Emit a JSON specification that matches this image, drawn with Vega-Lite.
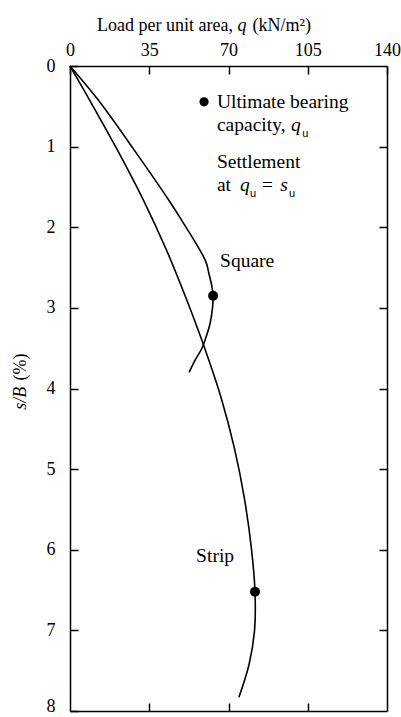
{
  "$schema": "https://vega.github.io/schema/vega-lite/v6.json",
  "width": 317,
  "height": 645,
  "autosize": {"type": "none"},
  "padding": {"left": 70, "top": 66, "right": 14, "bottom": 6},
  "background": "white",
  "config": {
    "view": {"stroke": null},
    "font": "Liberation Serif",
    "axis": {
      "domainColor": "black",
      "domainWidth": 1.5,
      "tickColor": "black",
      "tickWidth": 1.5,
      "tickSize": -8,
      "labelFont": "Liberation Serif",
      "labelFontSize": 18,
      "labelColor": "black",
      "labelFlush": false,
      "grid": false,
      "title": null
    }
  },
  "datasets": {
    "curves": [
      {"footing": "Square", "i": 0, "q": 0, "s": 0},
      {"footing": "Square", "i": 1, "q": 12.4, "s": 0.42},
      {"footing": "Square", "i": 2, "q": 28.3, "s": 1.04},
      {"footing": "Square", "i": 3, "q": 43.3, "s": 1.65},
      {"footing": "Square", "i": 4, "q": 49.0, "s": 1.9},
      {"footing": "Square", "i": 5, "q": 59.9, "s": 2.42},
      {"footing": "Square", "i": 6, "q": 61.4, "s": 2.58},
      {"footing": "Square", "i": 7, "q": 62.7, "s": 2.74},
      {"footing": "Square", "i": 8, "q": 63.2, "s": 2.85},
      {"footing": "Square", "i": 9, "q": 62.9, "s": 3.01},
      {"footing": "Square", "i": 10, "q": 61.8, "s": 3.2},
      {"footing": "Square", "i": 11, "q": 60.1, "s": 3.36},
      {"footing": "Square", "i": 12, "q": 58.1, "s": 3.51},
      {"footing": "Square", "i": 13, "q": 55.2, "s": 3.65},
      {"footing": "Square", "i": 14, "q": 52.6, "s": 3.8},
      {"footing": "Strip", "i": 0, "q": 0, "s": 0},
      {"footing": "Strip", "i": 1, "q": 8.6, "s": 0.42},
      {"footing": "Strip", "i": 2, "q": 20.9, "s": 1.04},
      {"footing": "Strip", "i": 3, "q": 32.2, "s": 1.65},
      {"footing": "Strip", "i": 4, "q": 42.4, "s": 2.27},
      {"footing": "Strip", "i": 5, "q": 51.4, "s": 2.89},
      {"footing": "Strip", "i": 6, "q": 59.1, "s": 3.47},
      {"footing": "Strip", "i": 7, "q": 66.8, "s": 4.12},
      {"footing": "Strip", "i": 8, "q": 72.6, "s": 4.74},
      {"footing": "Strip", "i": 9, "q": 77.0, "s": 5.36},
      {"footing": "Strip", "i": 10, "q": 80.1, "s": 5.98},
      {"footing": "Strip", "i": 11, "q": 81.7, "s": 6.52},
      {"footing": "Strip", "i": 12, "q": 81.5, "s": 7.0},
      {"footing": "Strip", "i": 13, "q": 79.1, "s": 7.42},
      {"footing": "Strip", "i": 14, "q": 74.6, "s": 7.83}
    ],
    "ultimate": [
      {"footing": "Square", "q": 63.2, "s": 2.85},
      {"footing": "Strip", "q": 81.7, "s": 6.52}
    ],
    "key": [
      {"q": 59.2, "s": 0.444}
    ],
    "plain": [
      {"label": "Ultimate bearing", "q": 64.9, "s": 0.518},
      {"label": "capacity,", "q": 64.9, "s": 0.801},
      {"label": "Settlement", "q": 64.9, "s": 1.27},
      {"label": "at", "q": 64.9, "s": 1.553},
      {"label": "=", "q": 84.8, "s": 1.553},
      {"label": "Square", "q": 66.3, "s": 2.49},
      {"label": "Strip", "q": 55.7, "s": 6.151}
    ],
    "italic": [
      {"label": "q", "q": 97.6, "s": 0.801},
      {"label": "q", "q": 75.1, "s": 1.553},
      {"label": "s", "q": 92.8, "s": 1.553}
    ],
    "subscript": [
      {"label": "u", "q": 102.6, "s": 0.875},
      {"label": "u", "q": 79.5, "s": 1.627},
      {"label": "u", "q": 96.7, "s": 1.627}
    ],
    "xtitle": [
      {"part": "Load per unit area,", "q": 72.0, "s": -0.44}
    ],
    "xtitleItalic": [
      {"part": "q", "q": 74.0, "s": -0.44}
    ],
    "xtitleUnit": [
      {"part": "(kN/m²)", "q": 80.6, "s": -0.44}
    ],
    "ytitleItalic": [
      {"part": "s/B", "q": -19.4, "s": 4.265}
    ],
    "ytitleUnit": [
      {"part": "(%)", "q": -19.4, "s": 3.9}
    ]
  },
  "resolve": {"axis": {"x": "independent", "y": "independent"}},
  "layer": [
    {
      "data": {"name": "curves"},
      "mark": {"type": "line", "color": "black", "strokeWidth": 1.6, "interpolate": "catmull-rom"},
      "encoding": {
        "x": {
          "field": "q", "type": "quantitative",
          "scale": {"domain": [0, 140], "nice": false, "zero": false},
          "axis": {"orient": "top", "values": [0, 35, 70, 105, 140], "labelPadding": 15}
        },
        "y": {
          "field": "s", "type": "quantitative",
          "scale": {"domain": [0, 8], "nice": false, "reverse": true},
          "axis": {
            "orient": "left",
            "values": [0, 1, 2, 3, 4, 5, 6, 7, 8],
            "labelPadding": 23,
            "labelOffset": {"condition": {"test": "datum.value == 8", "value": -5}, "value": 0}
          }
        },
        "detail": {"field": "footing"},
        "order": {"field": "i", "type": "quantitative"}
      }
    },
    {
      "data": {"name": "ultimate"},
      "mark": {"type": "point", "shape": "circle", "filled": true, "color": "black", "opacity": 1, "size": 100},
      "encoding": {
        "x": {"field": "q", "type": "quantitative", "axis": {"orient": "bottom", "labels": false, "values": [35, 70, 105]}},
        "y": {"field": "s", "type": "quantitative", "axis": {"orient": "right", "labels": false, "values": [1, 2, 3, 4, 5, 6, 7]}}
      }
    },
    {
      "data": {"name": "key"},
      "mark": {"type": "point", "shape": "circle", "filled": true, "color": "black", "opacity": 1, "size": 85},
      "encoding": {
        "x": {"field": "q", "type": "quantitative", "axis": null},
        "y": {"field": "s", "type": "quantitative", "axis": null}
      }
    },
    {
      "data": {"name": "plain"},
      "mark": {"type": "text", "align": "left", "baseline": "alphabetic", "font": "Liberation Serif", "fontSize": 19.5, "color": "black"},
      "encoding": {
        "x": {"field": "q", "type": "quantitative", "axis": null},
        "y": {"field": "s", "type": "quantitative", "axis": null},
        "text": {"field": "label"}
      }
    },
    {
      "data": {"name": "italic"},
      "mark": {"type": "text", "align": "left", "baseline": "alphabetic", "font": "Liberation Serif", "fontStyle": "italic", "fontSize": 19.5, "color": "black"},
      "encoding": {
        "x": {"field": "q", "type": "quantitative", "axis": null},
        "y": {"field": "s", "type": "quantitative", "axis": null},
        "text": {"field": "label"}
      }
    },
    {
      "data": {"name": "subscript"},
      "mark": {"type": "text", "align": "left", "baseline": "alphabetic", "font": "Liberation Sans", "fontSize": 11, "color": "black"},
      "encoding": {
        "x": {"field": "q", "type": "quantitative", "axis": null},
        "y": {"field": "s", "type": "quantitative", "axis": null},
        "text": {"field": "label"}
      }
    },
    {
      "data": {"name": "xtitle"},
      "mark": {"type": "text", "align": "right", "baseline": "alphabetic", "font": "Liberation Serif", "fontSize": 18, "color": "black"},
      "encoding": {
        "x": {"field": "q", "type": "quantitative", "axis": null},
        "y": {"field": "s", "type": "quantitative", "axis": null},
        "text": {"field": "part"}
      }
    },
    {
      "data": {"name": "xtitleItalic"},
      "mark": {"type": "text", "align": "left", "baseline": "alphabetic", "font": "Liberation Serif", "fontStyle": "italic", "fontSize": 18, "color": "black"},
      "encoding": {
        "x": {"field": "q", "type": "quantitative", "axis": null},
        "y": {"field": "s", "type": "quantitative", "axis": null},
        "text": {"field": "part"}
      }
    },
    {
      "data": {"name": "xtitleUnit"},
      "mark": {"type": "text", "align": "left", "baseline": "alphabetic", "font": "Liberation Serif", "fontSize": 18, "color": "black"},
      "encoding": {
        "x": {"field": "q", "type": "quantitative", "axis": null},
        "y": {"field": "s", "type": "quantitative", "axis": null},
        "text": {"field": "part"}
      }
    },
    {
      "data": {"name": "ytitleItalic"},
      "mark": {"type": "text", "align": "left", "baseline": "alphabetic", "angle": 270, "font": "Liberation Serif", "fontStyle": "italic", "fontSize": 18, "color": "black"},
      "encoding": {
        "x": {"field": "q", "type": "quantitative", "axis": null},
        "y": {"field": "s", "type": "quantitative", "axis": null},
        "text": {"field": "part"}
      }
    },
    {
      "data": {"name": "ytitleUnit"},
      "mark": {"type": "text", "align": "left", "baseline": "alphabetic", "angle": 270, "font": "Liberation Serif", "fontSize": 18, "color": "black"},
      "encoding": {
        "x": {"field": "q", "type": "quantitative", "axis": null},
        "y": {"field": "s", "type": "quantitative", "axis": null},
        "text": {"field": "part"}
      }
    }
  ]
}
